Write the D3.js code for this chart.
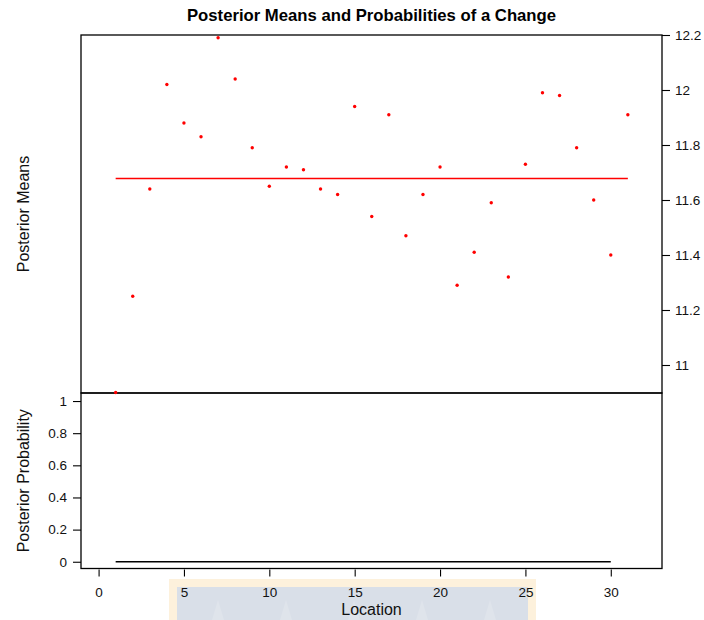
<!DOCTYPE html>
<html>
<head>
<meta charset="utf-8">
<script src="https://cdn.jsdelivr.net/npm/d3@7/dist/d3.min.js"></script>
<style>
  html, body { margin: 0; padding: 0; background: #fff; }
  svg { display: block; font-family: "Liberation Sans", Arial, sans-serif; }
</style>
</head>
<body>
<svg id="chart" width="704" height="620"></svg>
<script>
// Locations along the sequence
const locations = d3.range(1, 32);

// Observed means at each location
const posteriorMeans = [
  10.90, 11.25, 11.64, 12.02, 11.88, 11.83, 12.19, 12.04, 11.79, 11.65,
  11.72, 11.71, 11.64, 11.62, 11.94, 11.54, 11.91, 11.47, 11.62, 11.72,
  11.29, 11.41, 11.59, 11.32, 11.73, 11.99, 11.98, 11.79, 11.60, 11.40,
  11.91
];

// Fitted posterior mean (single block, no change detected)
const fittedMean = 11.68;

// Posterior probability of a change after each location
const changeLocations = d3.range(1, 31);
const changeProbs = changeLocations.map(() => 0);

// Tick labels
const xTicks = [0, 5, 10, 15, 20, 25, 30];
const meanTicks = [11, 11.2, 11.4, 11.6, 11.8, 12, 12.2];
const probTicks = [0, 0.2, 0.4, 0.6, 0.8, 1];

const svg = d3.select("#chart");

const left = 81, right = 662;
const topY = 35, midY = 393, botY = 568.5;

const x = d3.scaleLinear().domain([-1.03, 33.0]).range([left, right]);
const yTop = d3.scaleLinear().domain([10.9, 12.2]).range([392.5, topY]);
const yBot = d3.scaleLinear().domain([-0.042, 1.05]).range([botY, midY]);

// Banner strip behind the axis title
const banner = svg.append("g");
banner.append("rect").attr("x", 169).attr("y", 579).attr("width", 367).attr("height", 41).attr("fill", "#fdf1dc");
banner.append("rect").attr("x", 177).attr("y", 587).attr("width", 351).attr("height", 33).attr("fill", "#d9dfe8");
[218, 286, 354, 422, 490].forEach(cx => {
  banner.append("path")
    .attr("d", `M${cx - 6},620 L${cx},600 L${cx + 6},620 Z`)
    .attr("fill", "#dfe4eb");
});

// Title
svg.append("text")
  .attr("x", (left + right) / 2).attr("y", 21)
  .attr("text-anchor", "middle")
  .attr("font-size", 16.7).attr("font-weight", "bold")
  .attr("fill", "#000")
  .text("Posterior Means and Probabilities of a Change");

// Top panel: fitted mean line
svg.append("line")
  .attr("x1", x(1)).attr("x2", x(31))
  .attr("y1", yTop(fittedMean) + 0.5).attr("y2", yTop(fittedMean) + 0.5)
  .attr("stroke", "#ff0000").attr("stroke-width", 1.3);

// Bottom panel: probability of change
svg.append("path")
  .datum(changeLocations)
  .attr("fill", "none")
  .attr("stroke", "#000")
  .attr("stroke-width", 1.5)
  .attr("d", d3.line().x(d => x(d)).y((d, i) => yBot(changeProbs[i])));

// Panel frames
svg.append("rect")
  .attr("x", left).attr("y", topY).attr("width", right - left).attr("height", midY - topY)
  .attr("fill", "none").attr("stroke", "#000").attr("stroke-width", 1.3);
svg.append("rect")
  .attr("x", left).attr("y", midY).attr("width", right - left).attr("height", botY - midY)
  .attr("fill", "none").attr("stroke", "#000").attr("stroke-width", 1.3);

// Observed means, drawn above the frames
svg.append("g").selectAll("circle")
  .data(locations)
  .join("circle")
  .attr("cx", d => x(d))
  .attr("cy", (d, i) => yTop(posteriorMeans[i]))
  .attr("r", 1.7)
  .attr("fill", "#ff0000");

function styleAxis(g) {
  g.select(".domain").remove();
  g.selectAll(".tick line").attr("stroke", "#000").attr("stroke-width", 1.1);
  g.selectAll(".tick text").attr("fill", "#111").attr("font-size", 13.5)
    .attr("font-family", "'Liberation Sans', Arial, sans-serif");
}

// Right axis for means
svg.append("g")
  .attr("transform", `translate(${right},0)`)
  .call(d3.axisRight(yTop).tickValues(meanTicks).tickSize(8).tickPadding(5).tickFormat(d3.format("")))
  .call(styleAxis);

// Left axis for probabilities
svg.append("g")
  .attr("transform", `translate(${left},0)`)
  .call(d3.axisLeft(yBot).tickValues(probTicks).tickSize(8).tickPadding(6).tickFormat(d3.format("")))
  .call(styleAxis);

// Bottom axis for location
svg.append("g")
  .attr("transform", `translate(0,${botY + 1})`)
  .call(d3.axisBottom(x).tickValues(xTicks).tickSize(7).tickPadding(11).tickFormat(d3.format("d")))
  .call(styleAxis);

// Axis titles
svg.append("text")
  .attr("x", (left + right) / 2).attr("y", 615)
  .attr("text-anchor", "middle").attr("font-size", 16).attr("fill", "#111")
  .text("Location");

svg.append("text")
  .attr("transform", `translate(29,${(topY + midY) / 2}) rotate(-90)`)
  .attr("text-anchor", "middle").attr("font-size", 16).attr("fill", "#111")
  .text("Posterior Means");

svg.append("text")
  .attr("transform", `translate(29,${(midY + botY) / 2}) rotate(-90)`)
  .attr("text-anchor", "middle").attr("font-size", 16).attr("fill", "#111")
  .text("Posterior Probability");
</script>
</body>
</html>
